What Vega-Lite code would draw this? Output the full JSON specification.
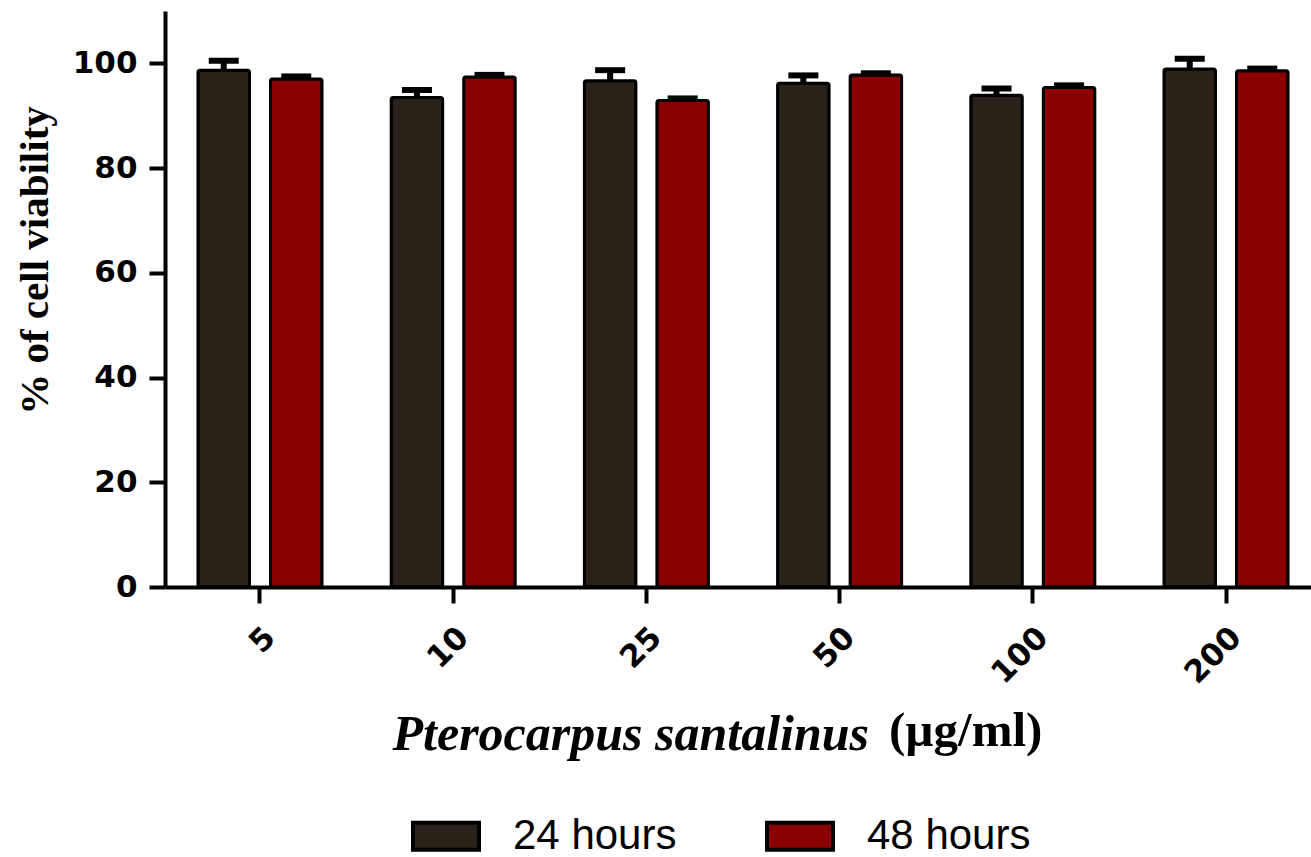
{
  "$schema": "https://vega.github.io/schema/vega-lite/v6.json",
  "autosize": {"type": "none"},
  "padding": {"left": 165, "top": 11, "right": 0, "bottom": 270},
  "width": 1146,
  "height": 576,
  "background": "white",
  "config": {"view": {"stroke": null}},
  "title": {
    "text": "(µg/ml)",
    "orient": "top",
    "anchor": "start",
    "frame": "group",
    "offset": 0,
    "dx": 724,
    "dy": 784,
    "baseline": "alphabetic",
    "font": "Liberation Serif",
    "fontSize": 49,
    "fontWeight": "bold",
    "color": "black"
  },
  "data": {
    "values": [
      {"conc": "5", "series": "24 hours", "value": 98.7, "upper": 100.5},
      {"conc": "5", "series": "48 hours", "value": 97.0, "upper": 97.5},
      {"conc": "10", "series": "24 hours", "value": 93.5, "upper": 94.9},
      {"conc": "10", "series": "48 hours", "value": 97.4, "upper": 97.8},
      {"conc": "25", "series": "24 hours", "value": 96.7, "upper": 98.7},
      {"conc": "25", "series": "48 hours", "value": 92.9, "upper": 93.3},
      {"conc": "50", "series": "24 hours", "value": 96.2, "upper": 97.7},
      {"conc": "50", "series": "48 hours", "value": 97.8, "upper": 98.1},
      {"conc": "100", "series": "24 hours", "value": 93.9, "upper": 95.2},
      {"conc": "100", "series": "48 hours", "value": 95.4, "upper": 95.8},
      {"conc": "200", "series": "24 hours", "value": 98.9, "upper": 100.9},
      {"conc": "200", "series": "48 hours", "value": 98.6, "upper": 99.0}
    ]
  },
  "encoding": {
    "x": {
      "field": "conc",
      "type": "nominal",
      "sort": ["5", "10", "25", "50", "100", "200"],
      "scale": {"range": [0, 1156], "paddingInner": 0.358, "paddingOuter": 0.1707},
      "axis": {
        "title": "Pterocarpus santalinus",
        "titleFont": "Liberation Serif",
        "titleFontSize": 50,
        "titleFontWeight": "bold",
        "titleFontStyle": "italic",
        "titleColor": "black",
        "titleAnchor": "start",
        "titleAlign": "left",
        "titleBaseline": "alphabetic",
        "titleX": 227,
        "titleY": 162,
        "labelAngle": -45,
        "labelFont": "DejaVu Sans",
        "labelFontWeight": "bold",
        "labelFontSize": 31,
        "labelColor": "black",
        "labelPadding": 19,
        "domainColor": "black",
        "domainWidth": 4,
        "tickColor": "black",
        "tickWidth": 4,
        "tickSize": 16,
        "grid": false
      }
    },
    "xOffset": {
      "field": "series",
      "type": "nominal",
      "scale": {"paddingInner": 0.29, "paddingOuter": 0}
    }
  },
  "layer": [
    {
      "mark": {"type": "bar", "stroke": "black", "strokeWidth": 3, "cornerRadius": 2},
      "encoding": {
        "y": {
          "field": "value",
          "type": "quantitative",
          "scale": {"domain": [0, 110], "nice": false},
          "axis": {
            "title": "% of cell viability",
            "titleFont": "Liberation Serif",
            "titleFontSize": 41,
            "titleFontWeight": "bold",
            "titleColor": "black",
            "titleAngle": -90,
            "titleBaseline": "alphabetic",
            "titleAlign": "center",
            "titleX": -118,
            "titleY": 249,
            "values": [0, 20, 40, 60, 80, 100],
            "labelFont": "DejaVu Sans",
            "labelFontWeight": "bold",
            "labelFontSize": 31,
            "labelColor": "black",
            "labelPadding": 12,
            "domainColor": "black",
            "domainWidth": 4,
            "tickColor": "black",
            "tickWidth": 4,
            "tickSize": 16,
            "grid": false
          }
        },
        "fill": {
          "field": "series",
          "type": "nominal",
          "scale": {"domain": ["24 hours", "48 hours"], "range": ["#2a2118", "#8a0000"]},
          "legend": {
            "title": null,
            "orient": "none",
            "legendX": 246,
            "legendY": 790,
            "direction": "horizontal",
            "padding": 0,
            "symbolType": "M-1,-0.409L1,-0.409L1,0.409L-1,0.409Z",
            "symbolSize": 4356,
            "symbolStrokeColor": "black",
            "symbolStrokeWidth": 4,
            "symbolOpacity": 1,
            "labelFont": "Liberation Sans",
            "labelFontSize": 42,
            "labelColor": "black",
            "labelOffset": 32,
            "columnPadding": 82,
            "labelLimit": 400
          }
        }
      }
    },
    {
      "mark": {"type": "rule", "stroke": "black", "strokeWidth": 6},
      "encoding": {
        "y": {"field": "value", "type": "quantitative"},
        "y2": {"field": "upper"}
      }
    },
    {
      "mark": {"type": "tick", "color": "black", "size": 30, "thickness": 6, "opacity": 1},
      "encoding": {
        "y": {"field": "upper", "type": "quantitative"}
      }
    }
  ]
}
